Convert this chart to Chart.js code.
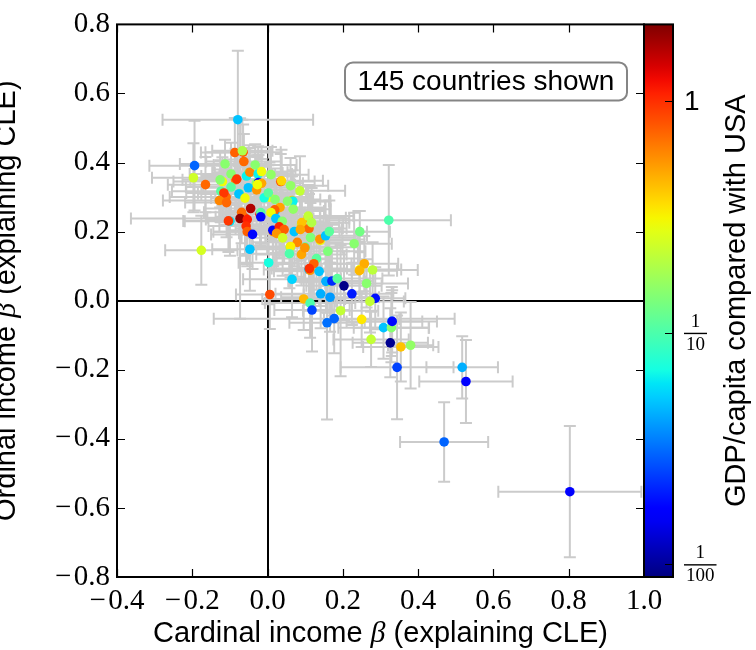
<!DOCTYPE html>
<html>
<head>
<meta charset="utf-8">
<script src="https://cdn.jsdelivr.net/npm/chart.js@4.4.1/dist/chart.umd.min.js"></script>
<style>
  html, body { margin: 0; padding: 0; background: #fff; }
</style>
</head>
<body>
<canvas id="chart" width="756" height="650"></canvas>
<script>
// cardinal / ordinal income coefficients per country, with standard errors
// first rows are countries mostly hidden under others
const cardinalBeta = [
  -0.085, -0.03, 0.005, 0.02, -0.06, 0.035, 0.09, 0.1, -0.11, -0.12,
  -0.05, 0.065, 0.11, 0.16, 0.035, -0.075, 0.015, -0.02, 0.14, -0.1,
  0.33, 0.06, -0.065, 0.108, 0.245, 0.09,
  -0.079, -0.194, -0.197, -0.165, -0.176, -0.087, -0.067, -0.063, -0.113, -0.126,
  -0.097, -0.082, -0.097, -0.124, -0.116, -0.128, -0.109, -0.076, -0.06, -0.056,
  -0.047, -0.033, -0.025, -0.051, -0.029, -0.024, -0.016, -0.027, -0.009, 0.002,
  0.02, -0.016, 0.009, 0.037, 0.061, 0.086, 0.067, 0.053, 0.033, 0.019,
  0.009, -0.018, 0.068, -0.045, -0.069, -0.073, -0.054, -0.104, -0.057, -0.054,
  -0.04, -0.047, -0.018, 0.022, 0.039, 0.014, 0.031, 0.044, 0.024, 0.071,
  0.04, 0.091, 0.11, 0.108, 0.117, 0.087, 0.114, 0.139, 0.154, 0.164,
  0.079, 0.061, 0.058, 0.09, 0.099, 0.13, 0.16, 0.003, 0.123, 0.113,
  0.111, 0.137, 0.065, 0.155, 0.171, 0.185, 0.203, 0.224, 0.141, 0.166,
  0.096, 0.113, 0.118, 0.006, 0.245, 0.23, 0.257, 0.244, 0.279, 0.263,
  0.286, 0.272, 0.194, 0.158, 0.177, 0.25, 0.308, 0.329, 0.331, 0.275,
  0.326, 0.354, 0.38, 0.322, 0.344, 0.517, 0.527, 0.469, 0.803
];
const ordinalBeta = [
  0.35, 0.34, 0.3, 0.26, 0.24, 0.21, 0.22, 0.155, 0.3, 0.345,
  0.37, 0.29, 0.09, 0.055, 0.345, 0.31, 0.2, 0.25, 0.175, 0.23,
  -0.06, 0.155, 0.43, 0.24, 0.09, 0.21,
  0.524, 0.391, 0.356, 0.336, 0.146, 0.429, 0.434, 0.403, 0.396, 0.35,
  0.367, 0.352, 0.329, 0.317, 0.312, 0.29, 0.284, 0.309, 0.297, 0.361,
  0.372, 0.393, 0.367, 0.327, 0.321, 0.342, 0.34, 0.336, 0.298, 0.312,
  0.293, 0.374, 0.365, 0.347, 0.333, 0.318, 0.288, 0.288, 0.27, 0.263,
  0.255, 0.255, 0.265, 0.267, 0.256, 0.238, 0.235, 0.231, 0.216, 0.2,
  0.192, 0.149, 0.243, 0.238, 0.23, 0.204, 0.214, 0.206, 0.195, 0.2,
  0.182, 0.226, 0.209, 0.245, 0.226, 0.206, 0.183, 0.178, 0.188, 0.2,
  0.169, 0.157, 0.136, 0.134, 0.153, 0.122, 0.143, 0.11, 0.107, 0.088,
  0.093, 0.085, 0.062, 0.056, 0.057, 0.064, 0.043, 0.02, 0.02, 0.01,
  0.005, -0.007, -0.027, 0.018, 0.2, 0.165, 0.107, 0.087, 0.089, 0.05,
  0.007, -0.002, -0.029, -0.064, -0.052, -0.054, -0.078, -0.078, -0.06, -0.112,
  -0.122, -0.134, -0.129, 0.233, -0.193, -0.193, -0.234, -0.409, -0.553
];
const cardinalErr = [
  0.12, 0.1, 0.11, 0.13, 0.1, 0.12, 0.1, 0.14, 0.15, 0.13,
  0.09, 0.1, 0.12, 0.1, 0.09, 0.11, 0.12, 0.1, 0.1, 0.12,
  0.12, 0.1, 0.1, 0.1, 0.11, 0.11,
  0.2, 0.12, 0.11, 0.1, 0.096, 0.09, 0.08, 0.1, 0.12, 0.1,
  0.11, 0.09, 0.12, 0.13, 0.1, 0.15, 0.11, 0.1, 0.09, 0.12,
  0.1, 0.11, 0.09, 0.12, 0.1, 0.09, 0.11, 0.1, 0.13, 0.1,
  0.12, 0.09, 0.1, 0.11, 0.1, 0.12, 0.1, 0.11, 0.12, 0.1,
  0.09, 0.11, 0.1, 0.12, 0.1, 0.29, 0.11, 0.12, 0.1, 0.09,
  0.11, 0.1, 0.12, 0.1, 0.11, 0.12, 0.1, 0.11, 0.1, 0.12,
  0.1, 0.11, 0.1, 0.12, 0.1, 0.11, 0.12, 0.1, 0.11, 0.1,
  0.12, 0.1, 0.11, 0.12, 0.1, 0.11, 0.1, 0.08, 0.1, 0.11,
  0.1, 0.12, 0.13, 0.1, 0.11, 0.12, 0.1, 0.11, 0.12, 0.13,
  0.11, 0.12, 0.1, 0.09, 0.08, 0.1, 0.09, 0.1, 0.12, 0.11,
  0.08, 0.09, 0.1, 0.1, 0.32, 0.1, 0.12, 0.1, 0.08, 0.1,
  0.1, 0.1, 0.06, 0.165, 0.15, 0.095, 0.124, 0.117, 0.19
];
const ordinalErr = [
  0.09, 0.08, 0.1, 0.09, 0.11, 0.08, 0.09, 0.1, 0.08, 0.07,
  0.08, 0.07, 0.1, 0.09, 0.08, 0.09, 0.1, 0.09, 0.09, 0.1,
  0.1, 0.08, 0.08, 0.09, 0.08, 0.09,
  0.2, 0.13, 0.1, 0.08, 0.1, 0.1, 0.09, 0.08, 0.07, 0.08,
  0.09, 0.07, 0.08, 0.09, 0.08, 0.09, 0.1, 0.08, 0.09, 0.08,
  0.07, 0.06, 0.08, 0.09, 0.1, 0.08, 0.07, 0.08, 0.09, 0.08,
  0.09, 0.07, 0.08, 0.09, 0.08, 0.1, 0.09, 0.08, 0.1, 0.09,
  0.08, 0.09, 0.1, 0.08, 0.09, 0.29, 0.1, 0.09, 0.11, 0.1,
  0.1, 0.12, 0.09, 0.1, 0.09, 0.1, 0.09, 0.1, 0.09, 0.1,
  0.11, 0.09, 0.1, 0.09, 0.1, 0.09, 0.1, 0.09, 0.1, 0.09,
  0.1, 0.09, 0.1, 0.09, 0.1, 0.09, 0.1, 0.12, 0.09, 0.1,
  0.08, 0.1, 0.11, 0.09, 0.1, 0.09, 0.1, 0.09, 0.1, 0.1,
  0.09, 0.1, 0.12, 0.1, 0.06, 0.09, 0.08, 0.09, 0.08, 0.07,
  0.09, 0.09, 0.19, 0.28, 0.1, 0.08, 0.09, 0.1, 0.09, 0.08,
  0.1, 0.1, 0.125, 0.16, 0.15, 0.09, 0.12, 0.115, 0.19
];
// GDP per capita relative to the USA (colour, log scale)
const gdpVsUsa = [
  0.6, 0.15, 0.3, 0.05, 0.9, 0.5, 0.2, 0.11, 0.7, 0.3,
  0.16, 0.4, 0.05, 0.2, 0.8, 0.12, 0.6, 1.2, 0.3, 0.06,
  0.05, 0.15, 0.8, 0.5, 0.3, 0.6,
  0.05, 0.03, 0.24, 0.72, 0.25, 0.75, 0.19, 0.72, 0.15, 0.15,
  0.15, 0.95, 0.11, 0.11, 0.95, 0.6, 0.72, 0.05, 0.3, 0.065,
  0.6, 0.15, 0.065, 0.05, 0.55, 0.017, 0.5, 0.3, 0.07, 0.11,
  0.15, 0.3, 0.16, 0.38, 0.16, 0.22, 0.065, 0.15, 0.5, 0.75,
  0.3, 0.11, 0.16, 1.7, 0.7, 2.0, 1.1, 0.95, 1.0, 0.75,
  0.018, 0.05, 0.018, 0.05, 0.15, 0.018, 1.05, 0.75, 0.55, 0.05,
  0.24, 0.42, 0.72, 0.22, 0.2, 0.5, 0.14, 0.55, 0.05, 0.11,
  0.6, 0.32, 0.1, 0.5, 0.55, 0.11, 0.14, 0.07, 0.75, 0.55,
  1.0, 0.05, 0.055, 0.045, 0.022, 0.11, 0.0092, 0.02, 0.045, 0.04,
  0.45, 0.1, 0.025, 0.85, 0.13, 0.15, 0.48, 0.45, 0.21, 0.15,
  0.019, 0.22, 0.22, 0.032, 0.03, 0.34, 0.05, 0.15, 0.018, 0.22,
  0.0095, 0.42, 0.16, 0.1, 0.025, 0.045, 0.017, 0.03, 0.017
];
const countriesNote = "145 countries shown";
const cbMin = 0.0088, cbMax = 2.15;
const cbTicks = [1, 0.1, 0.01];
const cbTickLabels = [["1"], ["1", "10"], ["1", "100"]];

function jet(t) {
  t = Math.min(1, Math.max(0, t));
  function seg(pts) {
    for (let i = 1; i < pts.length; i++) {
      if (t <= pts[i][0]) {
        let a = pts[i - 1], b = pts[i];
        return a[1] + (b[1] - a[1]) * (t - a[0]) / (b[0] - a[0]);
      }
    }
    return pts[pts.length - 1][1];
  }
  let r = seg([[0, 0], [0.35, 0], [0.66, 1], [0.89, 1], [1, 0.5]]);
  let g = seg([[0, 0], [0.125, 0], [0.375, 1], [0.64, 1], [0.91, 0], [1, 0]]);
  let b = seg([[0, 0.5], [0.11, 1], [0.34, 1], [0.65, 0], [1, 0]]);
  return "rgb(" + Math.round(r * 255) + "," + Math.round(g * 255) + "," + Math.round(b * 255) + ")";
}
function gdpColor(v) {
  let t = (Math.log10(v) - Math.log10(cbMin)) / (Math.log10(cbMax) - Math.log10(cbMin));
  return jet(t);
}

let points = cardinalBeta.map((x, i) => ({ x: x, y: ordinalBeta[i] }));
let colors = gdpVsUsa.map(gdpColor);

function fmtTick(v) {
  if (Math.abs(v) < 1e-9) return "0.0";
  return (v < 0 ? "\u2212\u200a" : "") + Math.abs(v).toFixed(1);
}
function zeroLine(ctx) {
  return ctx.tick && Math.abs(ctx.tick.value) < 1e-9 ? "#000" : "rgba(0,0,0,0)";
}

function drawRich(ctx, parts, x, y) {
  let total = 0;
  parts.forEach(p => { ctx.font = p[1]; total += ctx.measureText(p[0]).width; });
  let cx = x - total / 2;
  parts.forEach(p => {
    ctx.font = p[1];
    ctx.fillText(p[0], cx, y);
    cx += ctx.measureText(p[0]).width;
  });
}

const sans = "29px 'Liberation Sans', Arial, sans-serif";
const beta = "italic 30px 'Liberation Serif', serif";

const decor = {
  id: "decor",
  beforeDatasetsDraw(chart) {
    let ctx = chart.ctx, xs = chart.scales.x, ys = chart.scales.y, a = chart.chartArea;
    ctx.save();
    ctx.beginPath();
    ctx.rect(a.left, a.top, a.right - a.left, a.bottom - a.top);
    ctx.clip();
    ctx.strokeStyle = "#cbcbcb";
    ctx.lineWidth = 2;
    let cap = 6;
    for (let i = 0; i < cardinalBeta.length; i++) {
      let px = xs.getPixelForValue(cardinalBeta[i]);
      let py = ys.getPixelForValue(ordinalBeta[i]);
      let x0 = xs.getPixelForValue(cardinalBeta[i] - cardinalErr[i]);
      let x1 = xs.getPixelForValue(cardinalBeta[i] + cardinalErr[i]);
      let y0 = ys.getPixelForValue(ordinalBeta[i] - ordinalErr[i]);
      let y1 = ys.getPixelForValue(ordinalBeta[i] + ordinalErr[i]);
      ctx.beginPath();
      ctx.moveTo(x0, py); ctx.lineTo(x1, py);
      ctx.moveTo(px, y0); ctx.lineTo(px, y1);
      ctx.moveTo(x0, py - cap); ctx.lineTo(x0, py + cap);
      ctx.moveTo(x1, py - cap); ctx.lineTo(x1, py + cap);
      ctx.moveTo(px - cap, y0); ctx.lineTo(px + cap, y0);
      ctx.moveTo(px - cap, y1); ctx.lineTo(px + cap, y1);
      ctx.stroke();
    }
    ctx.restore();
  },
  afterDraw(chart) {
    let ctx = chart.ctx, xs = chart.scales.x, ys = chart.scales.y, cb = chart.scales.cb;
    let a = chart.chartArea;
    ctx.save();
    // inward ticks on all four sides
    ctx.strokeStyle = "#000";
    ctx.lineWidth = 1.2;
    let tl = 8;
    ctx.beginPath();
    xs.ticks.forEach(t => {
      let p = Math.round(xs.getPixelForValue(t.value)) + 0.5;
      ctx.moveTo(p, a.bottom); ctx.lineTo(p, a.bottom - tl);
      ctx.moveTo(p, a.top); ctx.lineTo(p, a.top + tl);
    });
    ys.ticks.forEach(t => {
      let p = Math.round(ys.getPixelForValue(t.value)) + 0.5;
      ctx.moveTo(a.left, p); ctx.lineTo(a.left + tl, p);
      ctx.moveTo(a.right, p); ctx.lineTo(a.right - tl, p);
    });
    ctx.stroke();

    // colour bar
    let cl = a.right, cr = a.right + 29;
    let grad = ctx.createLinearGradient(0, a.bottom, 0, a.top);
    for (let i = 0; i <= 40; i++) grad.addColorStop(i / 40, jet(i / 40));
    ctx.fillStyle = grad;
    ctx.fillRect(cl, a.top, cr - cl, a.bottom - a.top);
    ctx.lineWidth = 2;
    ctx.strokeRect(cl, a.top, cr - cl, a.bottom - a.top);
    ctx.lineWidth = 1.2;
    ctx.beginPath();
    cbTicks.forEach(v => {
      let p = Math.round(cb.getPixelForValue(v)) + 0.5;
      ctx.moveTo(cr, p); ctx.lineTo(cr - tl, p);
    });
    ctx.stroke();
    ctx.fillStyle = "#000";
    ctx.textBaseline = "middle";
    cbTicks.forEach((v, i) => {
      let p = cb.getPixelForValue(v);
      let lab = cbTickLabels[i];
      if (lab.length === 1) {
        ctx.font = "28px 'Liberation Sans', Arial, sans-serif";
        ctx.textAlign = "left";
        ctx.fillText(lab[0], cr + 11, p + 1);
      } else {
        ctx.font = "19px 'Liberation Serif', serif";
        ctx.textAlign = "center";
        let w = ctx.measureText(lab[1]).width + 4;
        let cx = cr + 11 + w / 2;
        ctx.fillText(lab[0], cx, p - 11);
        ctx.fillText(lab[1], cx, p + 12);
        ctx.fillRect(cx - w / 2, p, w, 1.4);
      }
    });
    ctx.restore();

    // plot frame
    ctx.save();
    ctx.strokeStyle = "#000";
    ctx.lineWidth = 2;
    ctx.strokeRect(a.left, a.top, a.right - a.left, a.bottom - a.top);
    ctx.restore();

    // axis titles
    let mid = (a.top + a.bottom) / 2;
    ctx.save();
    ctx.fillStyle = "#000";
    ctx.textAlign = "left";
    ctx.textBaseline = "alphabetic";
    drawRich(ctx, [["Cardinal income ", sans], ["\u03b2", beta], [" (explaining CLE)", sans]], (a.left + a.right) / 2, 642);
    ctx.translate(15, mid);
    ctx.rotate(-Math.PI / 2);
    drawRich(ctx, [["Ordinal income ", sans], ["\u03b2", beta], [" (explaining CLE)", sans]], 0, 0);
    ctx.restore();

    ctx.save();
    ctx.fillStyle = "#000";
    ctx.translate(745, mid);
    ctx.rotate(-Math.PI / 2);
    ctx.textAlign = "center";
    ctx.font = sans;
    ctx.fillText("GDP/capita compared with USA", 0, 0);
    ctx.restore();

    // note box
    ctx.save();
    let bx = a.right - 299, by = a.top + 38, bw = 282, bh = 38;
    ctx.beginPath();
    ctx.roundRect(bx, by, bw, bh, 8);
    ctx.fillStyle = "#fff";
    ctx.fill();
    ctx.strokeStyle = "#858585";
    ctx.lineWidth = 2;
    ctx.stroke();
    ctx.fillStyle = "#000";
    ctx.font = "28px 'Liberation Sans', Arial, sans-serif";
    ctx.textAlign = "center";
    ctx.textBaseline = "middle";
    ctx.fillText(countriesNote, bx + bw / 2, by + bh / 2 + 1);
    ctx.restore();
  }
};

const tickFont = { family: "'Liberation Serif', serif", size: 29 };

new Chart(document.getElementById("chart"), {
  type: "scatter",
  data: {
    datasets: [{
      data: points,
      pointBackgroundColor: colors,
      pointBorderColor: colors,
      pointBorderWidth: 0,
      pointRadius: 4.8,
      pointHoverRadius: 4.8
    }]
  },
  options: {
    responsive: false,
    animation: false,
    devicePixelRatio: 1,
    layout: { padding: { top: 19, left: 0, right: 0, bottom: 0 } },
    plugins: { legend: { display: false }, tooltip: { enabled: false } },
    scales: {
      x: {
        type: "linear", min: -0.4, max: 1.0,
        ticks: { stepSize: 0.2, callback: fmtTick, font: tickFont, color: "#000", padding: 7, maxRotation: 0, autoSkip: false },
        grid: { color: zeroLine, lineWidth: 2, drawTicks: false },
        border: { display: false },
        afterFit: s => { s.height = 73; }
      },
      y: {
        type: "linear", min: -0.8, max: 0.8,
        ticks: { stepSize: 0.2, callback: fmtTick, font: tickFont, color: "#000", padding: 7, autoSkip: false },
        grid: { color: zeroLine, lineWidth: 2, drawTicks: false },
        border: { display: false },
        afterFit: s => { s.width = 117; }
      },
      cb: {
        type: "logarithmic", axis: "y", position: "right", min: cbMin, max: cbMax,
        ticks: { display: false },
        grid: { display: false, drawTicks: false },
        border: { display: false },
        afterFit: s => { s.width = 112; }
      }
    }
  },
  plugins: [decor]
});
</script>
</body>
</html>
